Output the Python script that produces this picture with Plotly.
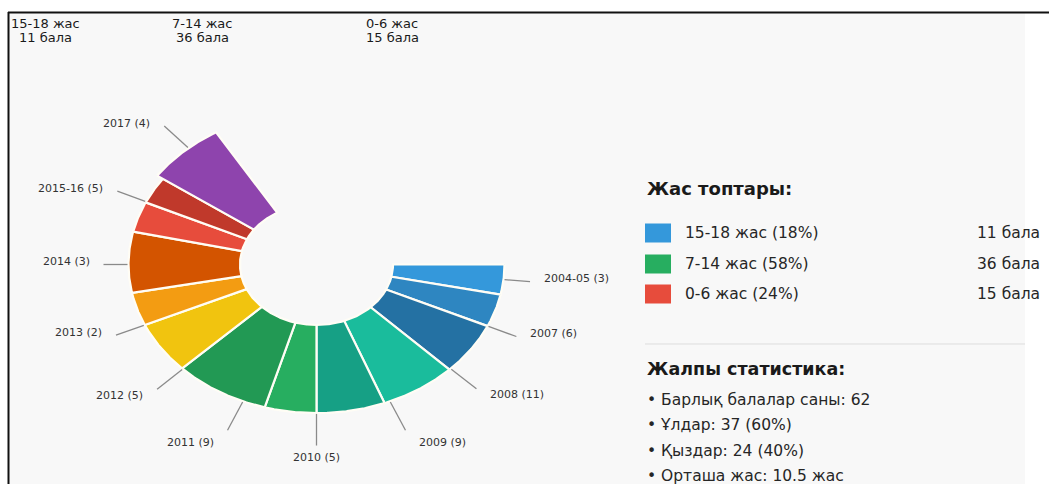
import numpy as np
import plotly.graph_objects as go

# ---------------- data ----------------
# ring segments, clockwise from 3 o'clock
seg_names = ["2004-05", "2007", "2008", "2009", "2009/10", "2010", "2011",
             "2012", "2013", "2014", "2015", "2015-16", "2017"]
seg_span_deg = [11.7, 12.8, 20.5, 23.8, 21.2, 16.0, 29.6, 20.4, 13.0, 23.8, 11.9, 10.5, 23.8]
seg_outer = [188, 188, 188, 188, 188, 188, 188, 188, 188, 188, 188, 188, 195]
seg_colors = ["#3498db", "#2e86c1", "#2471a3", "#1abc9c", "#16a085", "#27ae60", "#229954",
              "#f1c40f", "#f39c12", "#d35400", "#e74c3c", "#c0392b", "#8e44ad"]
inner_radius = 76.5

# outer labels
label_years = ["2004-05", "2007", "2008", "2009", "2010", "2011", "2012", "2013", "2014", "2015-16", "2017"]
label_counts = [3, 6, 11, 9, 5, 9, 5, 2, 3, 5, 4]
label_theta = [5.8, 24.5, 44.5, 67, 90, 113, 135.3, 156, 180, 205, 229]

# age groups
age_names = ["15-18 жас", "7-14 жас", "0-6 жас"]
age_counts = [11, 36, 15]
age_pct = [18, 58, 24]
age_colors = ["#3498db", "#27ae60", "#e74c3c"]

stats_lines = ["• Барлық балалар саны: 62", "• Ұлдар: 37 (60%)",
               "• Қыздар: 24 (40%)", "• Орташа жас: 10.5 жас"]

# ---------------- layout helpers ----------------
W, H = 1049, 484
CX, CY = 316.5, 264.5          # ring centre in pixels
K = 1.265                      # vertical squash of the ring
FONT = "DejaVu Sans"


def px(x):
    return x / W


def py(y):
    return 1 - y / H


fig = go.Figure()

# ---------------- ring segments ----------------
starts = np.concatenate([[0], np.cumsum(seg_span_deg)[:-1]])
for name, s, span, r1, col in zip(seg_names, starts, seg_span_deg, seg_outer, seg_colors):
    t = np.radians(-np.linspace(s, s + span, 60))
    xs = np.concatenate([r1 * np.cos(t), inner_radius * np.cos(t[::-1])])
    ys = np.concatenate([r1 * np.sin(t), inner_radius * np.sin(t[::-1])])
    xs = np.append(xs, xs[0])
    ys = np.append(ys, ys[0])
    fig.add_trace(go.Scatter(x=xs, y=ys, mode="lines", fill="toself", fillcolor=col,
                             line=dict(color="#fffdf5", width=2.2), name=name,
                             hoverinfo="name", showlegend=False))

# ---------------- leader lines + labels ----------------
ends = np.cumsum(seg_span_deg)
lx, ly = [], []
annotations = []
for yr, cnt, th in zip(label_years, label_counts, label_theta):
    idx = int(np.searchsorted(ends, th))
    idx = min(idx, len(seg_outer) - 1)
    r0 = seg_outer[idx] + 1
    a = np.radians(-th)
    c, s = np.cos(a), -np.sin(a)          # s > 0 means below centre
    L = 24 + 16 * abs(s)
    x0, y0 = r0 * np.cos(a), r0 * np.sin(a)
    x1, y1 = (r0 + L) * np.cos(a), (r0 + L) * np.sin(a)
    lx += [x0, x1, None]
    ly += [y0, y1, None]
    if c > 0.2:
        xa, xs_ = "left", 12
    elif c < -0.2:
        xa, xs_ = "right", -12
    else:
        xa, xs_ = "center", 0
    yoff = max(-3, 30 * (s - 0.5))
    if xa == "center":
        yoff = 12
    annotations.append(dict(x=x1, y=y1, xref="x", yref="y", text=f"{yr} ({cnt})",
                            showarrow=False, xanchor=xa, yanchor="middle",
                            xshift=xs_, yshift=-yoff,
                            font=dict(family=FONT, size=11, color="#333")))

fig.add_trace(go.Scatter(x=lx, y=ly, mode="lines", line=dict(color="#8a8a8a", width=1.3),
                         hoverinfo="skip", showlegend=False))

# ---------------- top summary ----------------
top_cx = [45, 202, 392]
for name, cnt, xc in zip(age_names, age_counts, top_cx):
    annotations.append(dict(x=px(xc), y=py(23), xref="paper", yref="paper", text=name,
                            showarrow=False, xanchor="center", yanchor="middle",
                            font=dict(family=FONT, size=13, color="#1a1a1a")))
    annotations.append(dict(x=px(xc), y=py(37), xref="paper", yref="paper", text=f"{cnt} бала",
                            showarrow=False, xanchor="center", yanchor="middle",
                            font=dict(family=FONT, size=13, color="#1a1a1a")))

# ---------------- right panel ----------------
shapes = []
shapes.append(dict(type="rect", xref="paper", yref="paper", x0=px(9), x1=px(1025),
                   y0=py(484), y1=py(13), fillcolor="#f8f8f8", line=dict(width=0), layer="below"))
shapes.append(dict(type="line", xref="paper", yref="paper", x0=px(8), x1=1,
                   y0=py(12.5), y1=py(12.5), line=dict(color="#111", width=2)))
shapes.append(dict(type="line", xref="paper", yref="paper", x0=px(8.5), x1=px(8.5),
                   y0=py(12), y1=0, line=dict(color="#111", width=2)))

annotations.append(dict(x=px(645), y=py(188), xref="paper", yref="paper", text="<b>Жас топтары:</b>",
                        showarrow=False, xanchor="left", yanchor="middle",
                        font=dict(family=FONT, size=18, color="#1a1a1a")))
row_y = [233, 264, 294]
for name, cnt, pct, col, yy in zip(age_names, age_counts, age_pct, age_colors, row_y):
    shapes.append(dict(type="rect", xref="paper", yref="paper", x0=px(645), x1=px(671),
                       y0=py(yy + 9.5), y1=py(yy - 9.5), fillcolor=col, line=dict(width=0)))
    annotations.append(dict(x=px(683), y=py(yy), xref="paper", yref="paper",
                            text=f"{name} ({pct}%)", showarrow=False, xanchor="left",
                            yanchor="middle", font=dict(family=FONT, size=15.5, color="#262626")))
    annotations.append(dict(x=px(975), y=py(yy), xref="paper", yref="paper",
                            text=f"{cnt} бала", showarrow=False, xanchor="left",
                            yanchor="middle", font=dict(family=FONT, size=15.5, color="#262626")))

shapes.append(dict(type="line", xref="paper", yref="paper", x0=px(645), x1=px(1025),
                   y0=py(344), y1=py(344), line=dict(color="#dddddd", width=1)))
annotations.append(dict(x=px(645), y=py(369), xref="paper", yref="paper",
                        text="<b>Жалпы статистика:</b>", showarrow=False, xanchor="left",
                        yanchor="middle", font=dict(family=FONT, size=17.5, color="#1a1a1a")))
for line, yy in zip(stats_lines, [400, 425, 451, 476]):
    annotations.append(dict(x=px(645), y=py(yy), xref="paper", yref="paper", text=line,
                            showarrow=False, xanchor="left", yanchor="middle",
                            font=dict(family=FONT, size=15.5, color="#262626")))

fig.update_layout(
    width=W, height=H, margin=dict(l=0, r=0, t=0, b=0),
    paper_bgcolor="white", plot_bgcolor="rgba(0,0,0,0)",
    xaxis=dict(range=[-CX, W - CX], visible=False, fixedrange=True),
    yaxis=dict(range=[-(H - CY) * K, CY * K], visible=False, fixedrange=True),
    shapes=shapes, annotations=annotations, showlegend=False,
)

fig.write_html("out.html")
